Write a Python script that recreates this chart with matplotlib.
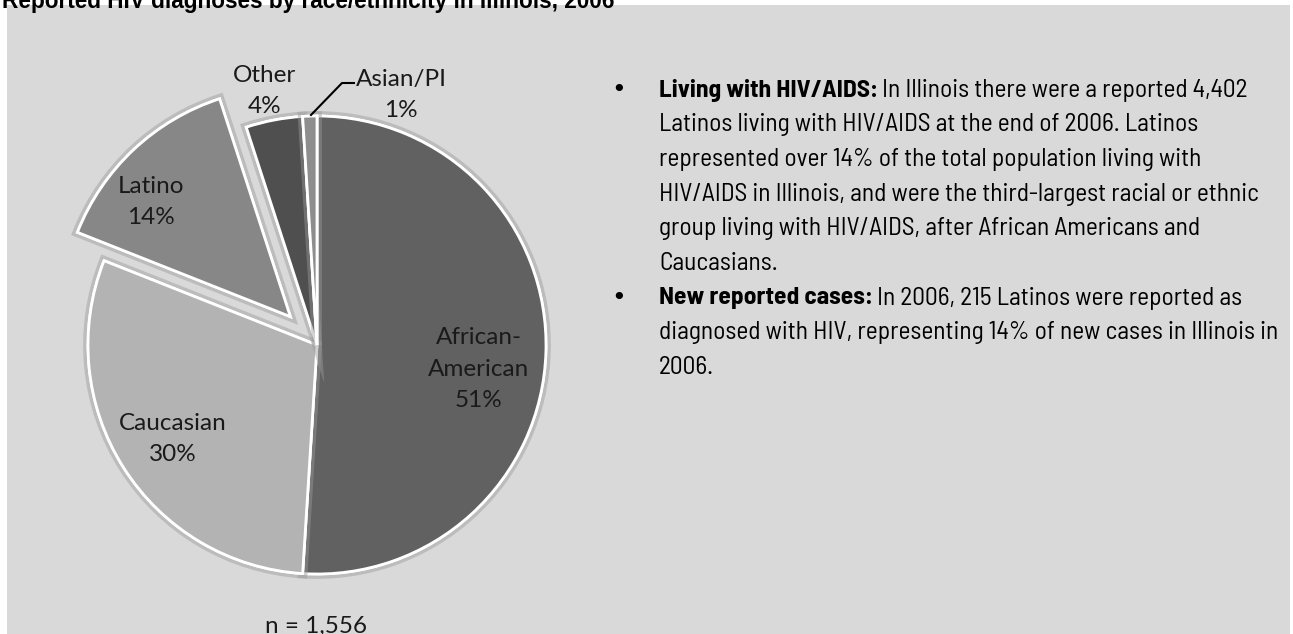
import matplotlib
matplotlib.use("Agg")
import matplotlib.pyplot as plt
import matplotlib.patheffects as pe
from matplotlib.patches import Rectangle
from matplotlib import font_manager as fm

# ---------------- data ----------------
categories = ["African-\nAmerican", "Caucasian", "Latino", "Other", "Asian/PI"]
shares = [51, 30, 14, 4, 1]
explode_frac = [0.0, 0.0, 0.17, 0.0, 0.0]
n_total = "1,556"
title = "Reported HIV diagnoses by race/ethnicity in Illinois, 2006"

bullet_heads = ["Living with HIV/AIDS:", "New reported cases:"]
bullet_lines = [
    ["In Illinois there were a reported 4,402",
     "Latinos living with HIV/AIDS at the end of 2006. Latinos",
     "represented over 14% of the total population living with",
     "HIV/AIDS in Illinois, and were the third-largest racial or ethnic",
     "group living with HIV/AIDS, after African Americans and",
     "Caucasians."],
    ["In 2006, 215 Latinos were reported as",
     "diagnosed with HIV, representing 14% of new cases in Illinois in",
     "2006."],
]

# ---------------- style ----------------
colors = ["#616161", "#b3b3b3", "#878787", "#4f4f4f", "#8e8e8e"]
W, H = 1293, 634

names = {f.name for f in fm.fontManager.ttflist}


def stretch_val(s):
    if isinstance(s, (int, float)):
        return s
    table = {"ultra-condensed": 100, "extra-condensed": 200, "condensed": 300,
             "semi-condensed": 400, "normal": 500}
    return table.get(str(s), 500)


def find_condensed(bold):
    cands = []
    for f in fm.fontManager.ttflist:
        sv = stretch_val(f.stretch)
        low = (f.fname or "").lower()
        name_cond = ("condensed" in low or "narrow" in low or "cond" in low)
        if (sv < 500 or name_cond) and f.style == "normal":
            w = f.weight if isinstance(f.weight, int) else {"bold": 700, "normal": 400, "regular": 400}.get(str(f.weight), 400)
            if "semicond" in low.replace("-", "").replace("_", ""):
                sv = max(sv, 400)
            cands.append((abs(w - (700 if bold else 400)), -min(sv, 450), f.fname))
    if not cands:
        return None
    cands.sort()
    return cands[0][2]


reg_path = find_condensed(False)
bold_path = find_condensed(True)
if reg_path:
    fp_reg = fm.FontProperties(fname=reg_path)
    fp_bold = fm.FontProperties(fname=bold_path) if bold_path else fm.FontProperties(fname=reg_path, weight="bold")
    fs = 18.3
else:
    fp_reg = fm.FontProperties(family="DejaVu Sans")
    fp_bold = fm.FontProperties(family="DejaVu Sans", weight="bold")
    fs = 12.5

label_font = "Lato" if "Lato" in names else "DejaVu Sans"

fig = plt.figure(figsize=(W / 100, H / 100), dpi=100, facecolor="white")
ax = fig.add_axes([0, 0, 1, 1])

# gray panel
ax.add_patch(Rectangle((7, 0), W - 10, H - 5, facecolor="#d9d9d9", edgecolor="none", zorder=0))

cx, cy, r = 317, H - 345, 229
wedges, _ = ax.pie(shares, colors=colors, startangle=90, counterclock=False,
                   explode=[e * r for e in explode_frac], center=(cx, cy), radius=r,
                   wedgeprops=dict(edgecolor="white", linewidth=2,
                                   path_effects=[pe.withStroke(linewidth=7, foreground="#9a9a9a", alpha=0.45),
                                                 pe.Normal()]),
                   frame=False)
ax.set_xlim(0, W)
ax.set_ylim(0, H)
ax.set_aspect("equal")
ax.axis("off")

# title (cut off at top edge)
ax.text(2, H - 8, title, fontsize=16.3, fontweight="bold", family="Liberation Sans",
        ha="left", va="baseline", color="black", zorder=5)

# label offsets in radius units relative to pie centre
label_offsets = [(0.705, -0.105), (-0.63, -0.41), (-0.726, 0.624), (-0.23, 1.11), (0.367, 1.09)]
for lab, val, (dx, dy) in zip(categories, shares, label_offsets):
    ax.text(cx + dx * r, cy + dy * r, f"{lab}\n{val}%", ha="center", va="center",
            fontsize=17.5, family=label_font, color="#1a1a1a", linespacing=1.6, zorder=6)

# leader line for Asian/PI
ax.plot([cx - 6, cx + 25, cx + 37], [cy + r + 1, cy + r + 33, cy + r + 33],
        color="black", linewidth=1.5, zorder=6)

ax.text(cx - 1, H - 626, f"n = {n_total}", ha="center", va="center",
        fontsize=17.5, family=label_font, color="#1a1a1a", zorder=6)

# bullet text
x_bullet, x_text = 619, 659
line_h = 34.7
y = H - 90
renderer = fig.canvas.get_renderer()
inv = ax.transData.inverted()
for head, lines in zip(bullet_heads, bullet_lines):
    ax.text(x_bullet, y, "\u2022", ha="center", va="center", fontsize=18,
            family="DejaVu Sans", color="black", zorder=6)
    t = ax.text(x_text, y, head, ha="left", va="center", fontproperties=fp_bold, zorder=6)
    t.set_fontsize(fs)
    bb = t.get_window_extent(renderer=renderer)
    x_end = inv.transform((bb.x1, bb.y0))[0]
    t2 = ax.text(x_end + 4, y, lines[0], ha="left", va="center", fontproperties=fp_reg, zorder=6)
    t2.set_fontsize(fs)
    y -= line_h
    for ln in lines[1:]:
        t3 = ax.text(x_text, y, ln, ha="left", va="center", fontproperties=fp_reg, zorder=6)
        t3.set_fontsize(fs)
        y -= line_h

fig.savefig("out.png", dpi=100, facecolor="white")
